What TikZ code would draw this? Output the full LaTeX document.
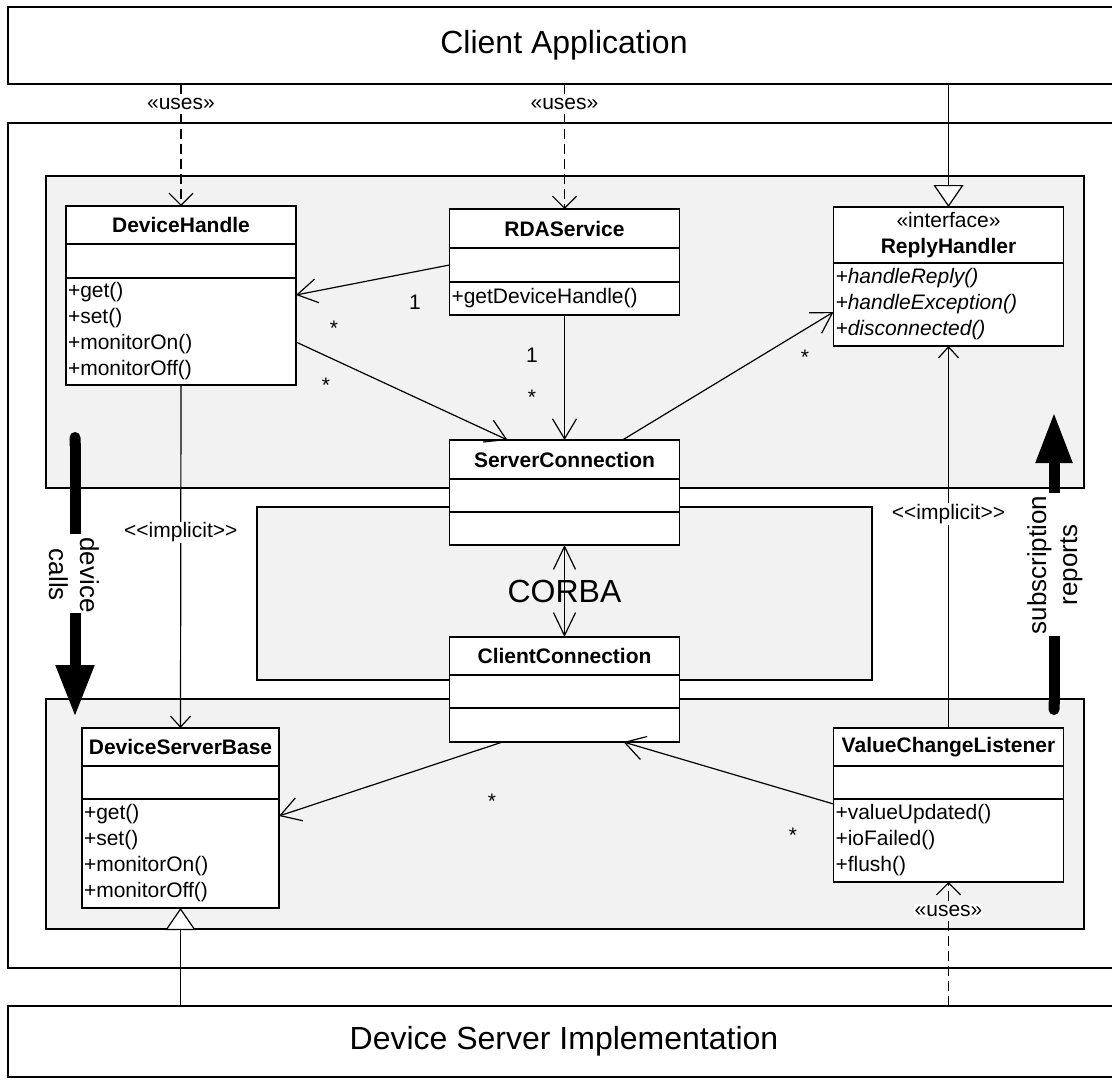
\documentclass[tikz,border=0pt]{standalone}
\usepackage{fontspec}
\setmainfont{Liberation Sans}
\usetikzlibrary{arrows.meta,positioning,calc}
\definecolor{pkggray}{HTML}{F2F2F2}
\newcommand{\umlfont}{\fontsize{21}{26}\selectfont}
\newcommand{\bigfont}{\fontsize{32}{38}\selectfont}
\newcommand{\flowfont}{\fontsize{26}{31}\selectfont}

\begin{document}
\begin{tikzpicture}[x=1pt,y=-1pt,
	clsbox/.style={draw,fill=white,line width=1.8pt,outer sep=0pt,inner sep=0pt,minimum width=230pt,font=\umlfont},
	clshead/.style={clsbox,minimum height=38pt,font=\umlfont\bfseries,align=center},
	clsattr/.style={clsbox,minimum height=33pt},
	clsops/.style={clsbox,text width=226pt,inner xsep=2pt,align=left},
	sysbox/.style={draw,line width=1.8pt,outer sep=0pt,inner sep=0pt,minimum width=1112pt,minimum height=77pt,font=\bigfont},
	pkg/.style={draw,fill=pkggray,line width=1.8pt},
	assoc/.style={line width=1.2pt,-{Straight Barb[length=20pt,width=24pt]}},
	uses/.style={line width=1.2pt,dash pattern=on 10pt off 5pt,-{Straight Barb[length=12pt,width=24pt]}},
	impl/.style={line width=1.2pt,-{Straight Barb[length=11pt,width=20pt]}},
	gen/.style={line width=1.2pt,-{Triangle[length=22pt,width=30pt,fill=white]}},
	lbl/.style={fill=white,inner sep=1pt,font=\umlfont},
	mult/.style={inner sep=0pt,font=\umlfont},
	flow/.style={line width=11pt}]

	\path[use as bounding box] (0,0) rectangle (1112,1081);
	\clip (0,0) rectangle (1112,1081);

	% systems and packages
	\node[sysbox,anchor=north west] (client) at (8,7) {Client Application};
	\node[sysbox,anchor=north west,minimum height=71pt] (dsi) at (8,1006) {Device Server Implementation};
	\draw[line width=1.8pt] (8,123) rectangle (1130,968);
	\draw[pkg] (46,176) rectangle (1084,488);
	\draw[pkg] (46,699) rectangle (1084,929);
	\draw[pkg] (257,507) rectangle (872,680);

	% client side classes
	\node[clshead,anchor=north] (dhH) at (181,206) {DeviceHandle};
	\node[clsattr,below=0pt of dhH,minimum height=34pt] (dhA) {};
	\node[clsops,below=0pt of dhA,minimum height=107pt] (dhO) {+get()\\+set()\\+monitorOn()\\+monitorOff()};

	\node[clshead,anchor=north,minimum height=39pt] (rdaH) at (564.5,209) {RDAService};
	\node[clsattr,below=0pt of rdaH,minimum height=34pt] (rdaA) {};
	\node[clsops,below=0pt of rdaA,minimum height=33pt] (rdaO) {+getDeviceHandle()};

	\node[clsbox,anchor=north,minimum height=56pt,align=center] (rhH) at (948.5,207) {«interface»\\\textbf{ReplyHandler}};
	\node[clsops,below=0pt of rhH,minimum height=83pt,font=\umlfont\itshape] (rhO) {+handleReply()\\+handleException()\\+disconnected()};

	\node[clshead,anchor=north,minimum height=39pt] (scH) at (564.5,440) {ServerConnection};
	\node[clsattr,below=0pt of scH] (scA) {};
	\node[clsattr,below=0pt of scA] (scO) {};

	% server side classes
	\node[clshead,anchor=north] (ccH) at (564.5,637) {ClientConnection};
	\node[clsattr,below=0pt of ccH] (ccA) {};
	\node[clsattr,below=0pt of ccA,minimum height=34pt] (ccO) {};

	\node[clshead,anchor=north,minimum width=197pt] (dsbH) at (180.5,728) {DeviceServerBase};
	\node[clsattr,below=0pt of dsbH,minimum width=197pt] (dsbA) {};
	\node[clsops,below=0pt of dsbA,minimum height=109pt,minimum width=197pt,text width=193pt] (dsbO) {+get()\\+set()\\+monitorOn()\\+monitorOff()};

	\node[clshead,anchor=north] (vclH) at (948.5,728) {ValueChangeListener};
	\node[clsattr,below=0pt of vclH] (vclA) {};
	\node[clsops,below=0pt of vclA,minimum height=83pt] (vclO) {+valueUpdated()\\+ioFailed()\\+flush()};

	% dependencies and generalizations
	\draw[uses] (client.south -| dhH) -- node[lbl,pos=0.16] {«uses»} (dhH.north);
	\draw[uses] (client.south -| rdaH) -- node[lbl,pos=0.16] {«uses»} (rdaH.north);
	\draw[gen] (client.south -| rhH) -- (rhH.north);
	\draw[uses] (dsi.north -| vclO) -- node[lbl,pos=0.77] {«uses»} (vclO.south);
	\draw[gen] (dsi.north -| dsbO) -- (dsbO.south);
	\draw[impl] (dhO.south) -- node[lbl,pos=0.43] {<{}<implicit>{}>} (dsbH.north);
	\draw[impl] (vclH.north) -- node[lbl,pos=0.56] {<{}<implicit>{}>} (rhO.south);

	% associations
	\draw[assoc] (rdaA.west) -- ($(dhO.north east)+(0,17)$);
	\draw[assoc] ($(dhO.north east)+(0,64)$) -- ($(scH.north west)+(58,0)$);
	\draw[assoc] (rdaO.south) -- (scH.north);
	\draw[assoc] ($(scH.north east)+(-57,0)$) -- ($(rhO.north west)+(0,49)$);
	\draw[assoc] ($(ccO.south west)+(53,0)$) -- ($(dsbO.north east)+(0,17)$);
	\draw[assoc] ($(vclO.north west)+(0,5)$) -- ($(ccO.south west)+(174,0)$);
	\draw[line width=1.2pt,{Straight Barb[length=23pt,width=22pt]}-{Straight Barb[length=23pt,width=22pt]}] (scO.south) -- node[font=\bigfont] {CORBA} (ccH.north);

	\node[mult] (m1) at (415,302) {1};
	\node[mult] (m2) at (334,328) {*};
	\node[mult] (m3) at (326,385) {*};
	\node[mult] (m4) at (532,355) {1};
	\node[mult] (m5) at (532,397) {*};
	\node[mult] (m6) at (805,357) {*};
	\node[mult] (m7) at (492,801) {*};
	\node[mult] (m8) at (793,835) {*};

	% call and report flows
	\node[rotate=-90,align=center,font=\flowfont] (calls) at (74,575) {device\\calls};
	\coordinate (dcTop) at (75,432);
	\coordinate (dcEnd) at (75,534);
	\coordinate (dcStart) at (75,613);
	\coordinate (dcTip) at (75,717);
	\draw[flow,{Round Cap}-] (dcTop) -- (dcEnd);
	\draw[flow,-{Triangle[length=52pt,width=36pt]}] (dcStart) -- (dcTip);

	\node[rotate=90,align=center,font=\flowfont] (reports) at (1055,565) {subscription\\reports};
	\coordinate (srBot) at (1054,715);
	\coordinate (srEnd) at (1054,636);
	\coordinate (srStart) at (1054,493);
	\coordinate (srTip) at (1054,412);
	\draw[flow,{Round Cap}-] (srBot) -- (srEnd);
	\draw[flow,-{Triangle[length=51pt,width=34pt]}] (srStart) -- (srTip);
\end{tikzpicture}
\end{document}
